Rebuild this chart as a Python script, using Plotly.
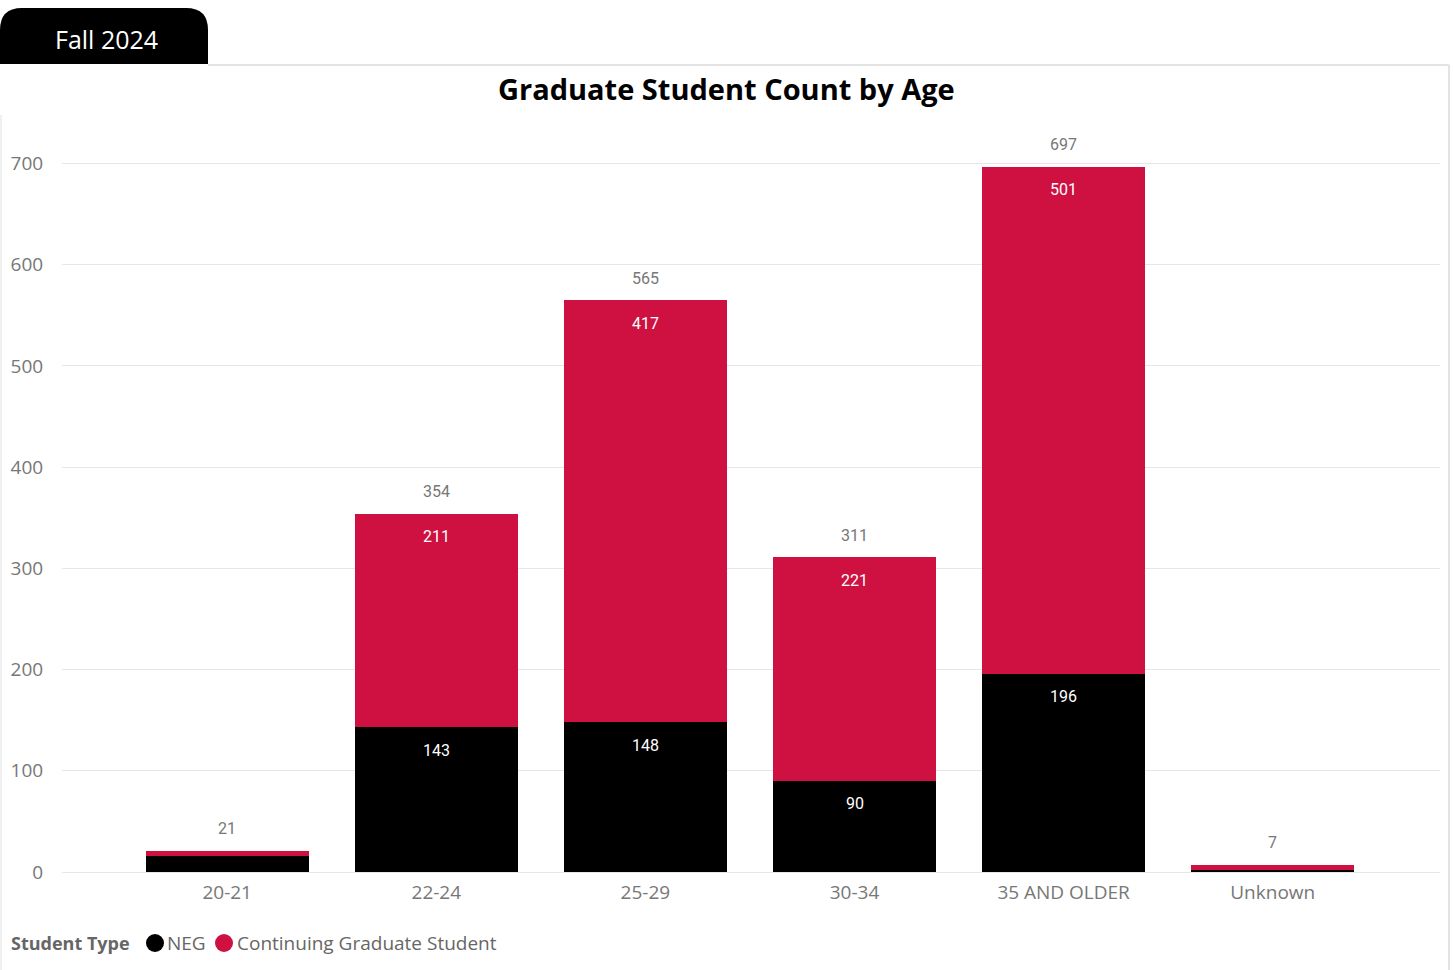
import plotly.graph_objects as go

# Graduate student headcount by age band, split by student type
age_groups = ["20-21", "22-24", "25-29", "30-34", "35 AND OLDER", "Unknown"]
neg_counts = [16, 143, 148, 90, 196, 2]
continuing_counts = [5, 211, 417, 221, 501, 5]
totals = [n + c for n, c in zip(neg_counts, continuing_counts)]

W, H = 1453, 970
NEG_COLOR = "#000000"
CONT_COLOR = "#CE1141"
GRID = "#E6E6E6"
LABEL_FONT = "Roboto"
UI_FONT = "Open Sans"

# plot area in pixels
px_left, px_right = 62, 1440
px_top, px_bottom = 120, 872
y_max = 743


def fx(px):
    return px / W


def fy(py):
    return 1 - py / H


fig = go.Figure()
fig.add_trace(go.Bar(x=age_groups, y=neg_counts, name="NEG",
                     marker=dict(color=NEG_COLOR, line=dict(width=0)),
                     showlegend=False, hoverinfo="x+y+name"))
fig.add_trace(go.Bar(x=age_groups, y=continuing_counts, name="Continuing Graduate Student",
                     marker=dict(color=CONT_COLOR, line=dict(width=0)),
                     showlegend=False, hoverinfo="x+y+name"))

annotations = []
# segment labels placed just under each segment top (only where they fit)
for cat, n, c in zip(age_groups, neg_counts, continuing_counts):
    if n >= 50:
        annotations.append(dict(x=cat, y=n, xref="x", yref="y", text=str(n),
                                showarrow=False, yanchor="middle", yshift=-23,
                                font=dict(family=LABEL_FONT, size=16, color="#FFFFFF")))
    if c >= 50:
        annotations.append(dict(x=cat, y=n + c, xref="x", yref="y", text=str(c),
                                showarrow=False, yanchor="middle", yshift=-23,
                                font=dict(family=LABEL_FONT, size=16, color="#FFFFFF")))
# totals above each stack
for cat, t in zip(age_groups, totals):
    annotations.append(dict(x=cat, y=t, xref="x", yref="y", text=str(t),
                            showarrow=False, yanchor="middle", yshift=22,
                            font=dict(family=LABEL_FONT, size=16, color="#777777")))

# chart title
annotations.append(dict(x=fx(726), y=fy(88), xref="paper", yref="paper",
                        text="<b>Graduate Student Count by Age</b>", showarrow=False,
                        xanchor="center", yanchor="middle",
                        font=dict(family=UI_FONT, size=29, color="#000000")))
# tab caption
annotations.append(dict(x=fx(106), y=fy(39), xref="paper", yref="paper",
                        text="Fall 2024", showarrow=False, xanchor="center", yanchor="middle",
                        font=dict(family=UI_FONT, size=25, color="#FFFFFF")))

# legend drawn along the bottom edge
leg_y = 943
annotations.append(dict(x=fx(9), y=fy(leg_y), xref="paper", yref="paper",
                        text="<b>Student Type</b>", showarrow=False, xanchor="left", yanchor="middle",
                        font=dict(family=UI_FONT, size=18, color="#666666")))
annotations.append(dict(x=fx(165), y=fy(leg_y), xref="paper", yref="paper",
                        text="NEG", showarrow=False, xanchor="left", yanchor="middle",
                        font=dict(family=UI_FONT, size=19, color="#666666")))
annotations.append(dict(x=fx(235), y=fy(leg_y), xref="paper", yref="paper",
                        text="Continuing Graduate Student", showarrow=False, xanchor="left",
                        yanchor="middle", font=dict(family=UI_FONT, size=19, color="#666666")))

r = 9
shapes = [
    # outer panel border
    dict(type="line", xref="paper", yref="paper", x0=fx(208), x1=fx(1449), y0=fy(65), y1=fy(65),
         line=dict(color="#E3E3E3", width=2)),
    dict(type="line", xref="paper", yref="paper", x0=fx(1449), x1=fx(1449), y0=fy(65), y1=fy(970),
         line=dict(color="#E3E3E3", width=2)),
    dict(type="line", xref="paper", yref="paper", x0=fx(1), x1=fx(1), y0=fy(115), y1=fy(970),
         line=dict(color="#F0F0F0", width=2)),
    # tab with rounded top corners
    dict(type="path", xref="paper", yref="paper", fillcolor="#000000", line=dict(width=0),
         path=(f"M {fx(0)},{fy(64)} L {fx(0)},{fy(30)} "
               f"Q {fx(0)},{fy(8)} {fx(22)},{fy(8)} L {fx(186)},{fy(8)} "
               f"Q {fx(208)},{fy(8)} {fx(208)},{fy(30)} L {fx(208)},{fy(64)} Z")),
    # legend swatches
    dict(type="circle", xref="paper", yref="paper", fillcolor=NEG_COLOR, line=dict(width=0),
         x0=fx(155 - r), x1=fx(155 + r), y0=fy(leg_y - r), y1=fy(leg_y + r)),
    dict(type="circle", xref="paper", yref="paper", fillcolor=CONT_COLOR, line=dict(width=0),
         x0=fx(224 - r), x1=fx(224 + r), y0=fy(leg_y - r), y1=fy(leg_y + r)),
]

fig.update_layout(
    width=W, height=H,
    margin=dict(l=0, r=0, t=0, b=0),
    paper_bgcolor="#FFFFFF", plot_bgcolor="#FFFFFF",
    barmode="stack", bargap=0.22,
    showlegend=False,
    annotations=annotations,
    shapes=shapes,
    xaxis=dict(domain=[fx(px_left), fx(px_right)], range=[-0.79, 5.80],
               showgrid=False, zeroline=False, showline=False, automargin=False,
               ticks="outside", ticklen=3, tickcolor="rgba(0,0,0,0)",
               tickfont=dict(family=UI_FONT, size=19, color="#777777")),
    yaxis=dict(domain=[fy(px_bottom), fy(px_top)], range=[0, y_max],
               tickvals=[0, 100, 200, 300, 400, 500, 600, 700],
               showgrid=True, gridcolor=GRID, gridwidth=1,
               zeroline=True, zerolinecolor=GRID, zerolinewidth=1,
               showline=False, automargin=False,
               ticks="outside", ticklen=14, tickcolor="rgba(0,0,0,0)",
               tickfont=dict(family=UI_FONT, size=19, color="#777777")),
)

fig.write_html("out.html")
